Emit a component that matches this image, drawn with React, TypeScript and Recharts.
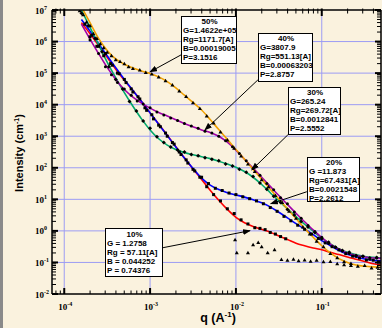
import React from 'react';
import { ComposedChart, Line, Scatter, XAxis, YAxis, ReferenceLine } from 'recharts';

// log10(q) grid of the fitted curves, and log10(I) of each fit
const fitLogQ = [-3.8, -3.7, -3.6, -3.5, -3.4, -3.3, -3.2, -3.1, -3.0, -2.9, -2.8, -2.7, -2.6, -2.5, -2.4, -2.3, -2.2, -2.1, -2.0, -1.9, -1.8, -1.7, -1.6, -1.5, -1.4, -1.3, -1.2, -1.1, -1.0, -0.9, -0.8, -0.7, -0.6, -0.5, -0.4, -0.31];
const fit50 = [7.1, 6.6, 6.1, 5.72, 5.45, 5.28, 5.16, 5.07, 4.99, 4.88, 4.73, 4.53, 4.30, 4.07, 3.83, 3.53, 3.21, 2.90, 2.58, 2.27, 1.95, 1.64, 1.32, 1.01, 0.70, 0.39, 0.08, -0.20, -0.47, -0.70, -0.88, -1.0, -1.08, -1.12, -1.14, -1.15];
const fit40 = [6.55, 6.08, 5.62, 5.18, 4.8, 4.48, 4.24, 4.05, 3.89, 3.75, 3.64, 3.52, 3.40, 3.30, 3.20, 3.12, 3.0, 2.81, 2.56, 2.27, 1.99, 1.70, 1.41, 1.12, 0.84, 0.56, 0.29, 0.03, -0.21, -0.42, -0.58, -0.70, -0.78, -0.83, -0.86, -0.87];
const fit30 = [7.0, 6.45, 5.9, 5.35, 4.85, 4.38, 3.95, 3.55, 3.2, 2.92, 2.72, 2.58, 2.48, 2.41, 2.35, 2.29, 2.21, 2.12, 2.02, 1.88, 1.70, 1.47, 1.21, 0.95, 0.70, 0.45, 0.21, -0.01, -0.23, -0.41, -0.57, -0.68, -0.76, -0.81, -0.84, -0.86];
const fit20 = [6.7, 6.33, 5.93, 5.55, 5.17, 4.8, 4.45, 4.1, 3.74, 3.38, 3.02, 2.66, 2.31, 1.98, 1.67, 1.45, 1.31, 1.21, 1.14, 1.07, 0.99, 0.89, 0.76, 0.59, 0.41, 0.23, 0.06, -0.12, -0.31, -0.47, -0.62, -0.74, -0.83, -0.89, -0.93, -0.95];
const fit10 = [6.6, 6.25, 5.88, 5.5, 5.12, 4.77, 4.45, 4.1, 3.74, 3.39, 3.03, 2.67, 2.31, 1.96, 1.63, 1.29, 0.97, 0.68, 0.43, 0.26, 0.14, 0.05, -0.04, -0.16, -0.27, -0.39, -0.47, -0.54, -0.60, -0.68, -0.75, -0.83, -0.90, -0.97, -1.04, -1.08];

// measured points, [log10 q, log10 I]
const data50 = [[-3.82, 6.98], [-3.78, 6.85], [-3.74, 6.62], [-3.7, 6.5], [-3.66, 6.25], [-3.62, 6.1], [-3.58, 5.93], [-3.54, 5.8], [-3.5, 5.66], [-3.45, 5.55], [-3.4, 5.42], [-3.35, 5.37], [-3.3, 5.3], [-3.25, 5.2], [-3.2, 5.15], [-3.12, 5.1], [-3.05, 5.02], [-2.98, 4.97], [-2.9, 4.88], [-2.82, 4.76], [-2.74, 4.62], [-2.66, 4.43], [-2.58, 4.26], [-2.5, 4.06], [-2.42, 3.88], [-2.34, 3.64], [-2.26, 3.42], [-2.18, 3.13], [-2.1, 2.88], [-2.02, 2.62], [-1.94, 2.37], [-1.86, 2.12], [-1.78, 1.88], [-1.7, 1.62], [-1.62, 1.4], [-1.54, 1.12], [-1.46, 0.9], [-1.38, 0.62], [-1.3, 0.4], [-1.22, 0.12], [-1.14, -0.1], [-1.06, -0.33], [-0.98, -0.5], [-0.9, -0.72], [-0.82, -0.85], [-0.74, -0.98], [-0.66, -1.03], [-0.58, -1.12], [-0.5, -1.1], [-0.42, -1.18], [-0.35, -1.15]];
const data40 = [[-3.7, 6.05], [-3.6, 5.62], [-3.52, 5.2], [-3.45, 4.95], [-3.38, 4.7], [-3.3, 4.5], [-3.22, 4.3], [-3.15, 4.12], [-3.08, 4.02], [-3.0, 3.9], [-2.92, 3.77], [-2.84, 3.67], [-2.76, 3.58], [-2.68, 3.5], [-2.6, 3.4], [-2.52, 3.32], [-2.44, 3.25], [-2.36, 3.16], [-2.28, 3.1], [-2.2, 3.0], [-2.12, 2.86], [-2.04, 2.67], [-1.96, 2.45], [-1.88, 2.22], [-1.8, 1.98], [-1.72, 1.76], [-1.64, 1.5], [-1.56, 1.3], [-1.48, 1.05], [-1.4, 0.86], [-1.32, 0.6], [-1.24, 0.4], [-1.16, 0.17], [-1.08, -0.02], [-1.0, -0.2], [-0.92, -0.4], [-0.84, -0.52], [-0.76, -0.64], [-0.68, -0.72], [-0.6, -0.8], [-0.52, -0.8], [-0.44, -0.9], [-0.36, -0.86]];
const data30 = [[-3.8, 6.9], [-3.72, 6.5], [-3.64, 6.1], [-3.56, 5.68], [-3.48, 5.2], [-3.4, 4.8], [-3.32, 4.5], [-3.24, 4.1], [-3.16, 3.8], [-3.08, 3.48], [-3.0, 3.25], [-2.92, 2.98], [-2.84, 2.8], [-2.76, 2.66], [-2.68, 2.56], [-2.6, 2.5], [-2.52, 2.42], [-2.44, 2.38], [-2.36, 2.32], [-2.28, 2.27], [-2.2, 2.22], [-2.12, 2.12], [-2.04, 2.06], [-1.96, 1.95], [-1.88, 1.86], [-1.8, 1.72], [-1.72, 1.52], [-1.64, 1.32], [-1.56, 1.1], [-1.48, 0.9], [-1.4, 0.68], [-1.32, 0.5], [-1.24, 0.3], [-1.16, 0.12], [-1.08, -0.05], [-1.0, -0.25], [-0.92, -0.36], [-0.84, -0.52], [-0.76, -0.62], [-0.68, -0.68], [-0.6, -0.78], [-0.52, -0.8], [-0.44, -0.86], [-0.36, -0.84]];
const data20 = [[-3.76, 6.55], [-3.68, 6.2], [-3.6, 5.85], [-3.52, 5.62], [-3.44, 5.25], [-3.36, 4.98], [-3.28, 4.7], [-3.2, 4.4], [-3.12, 4.18], [-3.04, 3.82], [-2.96, 3.55], [-2.88, 3.3], [-2.8, 3.0], [-2.72, 2.75], [-2.64, 2.42], [-2.56, 2.15], [-2.48, 1.9], [-2.4, 1.7], [-2.32, 1.5], [-2.24, 1.35], [-2.16, 1.28], [-2.08, 1.2], [-2.0, 1.15], [-1.92, 1.08], [-1.84, 1.02], [-1.76, 0.95], [-1.68, 0.86], [-1.6, 0.74], [-1.52, 0.62], [-1.44, 0.46], [-1.36, 0.32], [-1.28, 0.18], [-1.2, 0.05], [-1.12, -0.1], [-1.04, -0.24], [-0.96, -0.38], [-0.88, -0.5], [-0.8, -0.6], [-0.72, -0.72], [-0.64, -0.8], [-0.56, -0.86], [-0.48, -0.92], [-0.4, -0.93], [-0.34, -0.98]];
const data10 = [[-3.7, 6.15], [-3.62, 5.85], [-3.54, 5.55], [-3.46, 5.3], [-3.38, 5.0], [-3.3, 4.8], [-3.22, 4.5], [-3.14, 4.25], [-3.06, 3.9], [-2.98, 3.68], [-2.9, 3.35], [-2.82, 3.1], [-2.74, 2.8], [-2.66, 2.5], [-2.58, 2.25], [-2.5, 1.95], [-2.42, 1.7], [-2.34, 1.4], [-2.26, 1.15], [-2.18, 0.95], [-2.1, 0.7], [-2.02, 0.55], [-1.94, 0.35], [-1.86, 0.22], [-1.78, 0.1], [-1.72, 0.08], [-1.66, 0.04], [-1.6, -0.05], [-1.54, -0.1], [-1.48, -0.18], [-1.42, -0.25]];
const data10b = [[-2.01, -0.28], [-1.99, -0.69], [-1.86, -0.69], [-1.8, -0.44], [-1.74, -0.37], [-1.7, -0.5], [-1.63, -0.69], [-1.55, -0.6], [-1.47, -0.91], [-1.4, -0.93], [-1.33, -0.9], [-1.27, -0.95], [-1.2, -0.92], [-1.13, -0.96], [-1.06, -0.93], [-0.98, -0.98], [-0.9, -0.97], [-0.82, -1.04], [-0.74, -1.07], [-0.66, -1.1]];

// annotation boxes and arrows (arrow ends in log10 data units: from box to curve)
const labels50 = ['50%', 'G=1.4622e+05', 'Rg=1171.7[A]', 'B=0.00019005', 'P=3.1516'];
const labels40 = ['40%', 'G=3807.9', 'Rg=551.13[A]', 'B=0.00063203', 'P=2.8757'];
const labels30 = ['30%', 'G=265.24', 'Rg=269.72[A]', 'B=0.0012841', 'P=2.5552'];
const labels20 = ['20%', 'G =11.873', 'Rg=67.431[A]', 'B=0.0021548', 'P=2.2612'];
const labels10 = ['10%', 'G = 1.2758', 'Rg = 57.11[A]', 'B = 0.044252', 'P = 0.74376'];
const arrows = [
  [[-2.64, 5.576], [-3.0, 5.04]],
  [[-1.744, 4.785], [-2.36, 3.2]],
  [[-1.395, 3.044], [-1.814, 1.937]],
  [[-1.174, 1.241], [-1.593, 0.861]],
  [[-2.849, -0.532], [-1.837, 0.006]],
];

const xMajor = [1e-4, 1e-3, 1e-2, 1e-1];
const yMajor = [1e-2, 1e-1, 1, 10, 100, 1e3, 1e4, 1e5, 1e6, 1e7];
const minorMult = [2, 3, 4, 5, 6, 7, 8, 9];
const xDomain = [7.2e-5, 0.49];
const yDomain = [0.01, 1e7];

const withMinors = (majors: number[], dom: number[]) => {
  const out: number[] = [];
  const decades = [majors[0] / 10, ...majors];
  decades.forEach((d) => {
    out.push(d);
    minorMult.forEach((m) => out.push(d * m));
  });
  return out.filter((v) => v >= dom[0] * 0.999 && v <= dom[1] * 1.001);
};
const xTicks = withMinors(xMajor, xDomain);
const yTicks = withMinors(yMajor, yDomain);

const toFit = (ys: number[]) => fitLogQ.map((lq, i) => ({ q: Math.pow(10, lq), I: Math.pow(10, ys[i]) }));
const toPts = (pts: number[][]) => pts.map(([lq, li]) => ({ q: Math.pow(10, lq), I: Math.pow(10, li) }));

const isMajor = (v: number) => Math.abs(Math.log10(v) - Math.round(Math.log10(v))) < 1e-6;
const expOf = (v: number) => Math.round(Math.log10(v));
const SERIF = "'Liberation Serif', 'Times New Roman', serif";
const SANS = "'Liberation Sans', Arial, sans-serif";

const Pow = ({ x, y, e, anchor }: any) => (
  <text x={x} y={y} textAnchor={anchor} fontFamily={SERIF} fontWeight="bold" fontSize={9} fill="#000">
    10<tspan dy={-4} fontSize={6}>{e}</tspan>
  </text>
);

const BottomTick = (p: any) => {
  const { x, y, payload } = p;
  const m = isMajor(payload.value);
  return (
    <g>
      <line x1={x} x2={x} y1={y} y2={y - (m ? 6 : 3.5)} stroke="#000" strokeWidth={m ? 2 : 1} />
      {m && <Pow x={x + 1} y={y + 16} e={expOf(payload.value)} anchor="middle" />}
    </g>
  );
};
const TopTick = (p: any) => {
  const { x, y, payload } = p;
  const m = isMajor(payload.value);
  return <line x1={x} x2={x} y1={y - 1.5} y2={y + (m ? 6 : 3.5)} stroke="#000" strokeWidth={m ? 2 : 1} />;
};
const LeftTick = (p: any) => {
  const { x, y, payload } = p;
  const m = isMajor(payload.value);
  return (
    <g>
      <line x1={x} x2={x + (m ? 6 : 4)} y1={y} y2={y} stroke="#000" strokeWidth={m ? 2 : 1} />
      {m && <Pow x={x - 17} y={y + 3.5} e={expOf(payload.value)} anchor="start" />}
    </g>
  );
};
const RightTick = (p: any) => {
  const { x, y, payload } = p;
  const m = isMajor(payload.value);
  return <line x1={x} x2={x - (m ? 6 : 4)} y1={y} y2={y} stroke="#000" strokeWidth={m ? 2 : 1} />;
};

const Square = (p: any) => <rect x={p.cx - 1.5} y={p.cy - 1.5} width={3} height={3} fill="#000" />;
const Dot = (p: any) => <circle cx={p.cx} cy={p.cy} r={1.5} fill="#000" />;
const Tri = (p: any) => <path d={`M${p.cx},${p.cy - 2} L${p.cx + 2},${p.cy + 1.5} L${p.cx - 2},${p.cy + 1.5}Z`} fill="#000" />;
const Diamond = (p: any) => <path d={`M${p.cx},${p.cy - 2} L${p.cx + 2},${p.cy} L${p.cx},${p.cy + 2} L${p.cx - 2},${p.cy}Z`} fill="#000" />;

const ArrowLine = (p: any) => (
  <line x1={p.x1} y1={p.y1} x2={p.x2} y2={p.y2} stroke="#000" strokeWidth={1} markerEnd="url(#arrowHead)" />
);

const Box = ({ left, top, width, height, lines, padTop = 0 }: any) => (
  <div
    style={{
      position: 'absolute', left, top, width, height, boxSizing: 'border-box',
      border: '1px solid #000', background: '#fff', fontFamily: SANS, fontWeight: 'bold',
      fontSize: 8, lineHeight: '9.1px', paddingLeft: 1, paddingTop: padTop, color: '#000', whiteSpace: 'nowrap',
    }}
  >
    {lines.map((t: string, i: number) => (
      <div key={i} style={{ textAlign: i === 0 ? 'center' : 'left' }}>{t}</div>
    ))}
  </div>
);

const GRID = '#9C9CF4';

export default function App() {
  const fits = [
    { d: fit10, c: '#FF0000' },
    { d: fit20, c: '#0000FF' },
    { d: fit30, c: '#00A86B' },
    { d: fit40, c: '#A000A8' },
    { d: fit50, c: '#F0A000' },
  ];
  return (
    <div style={{ position: 'absolute', left: 0, top: 0, width: 382, height: 328, background: '#FAF2DE', overflow: 'hidden' }}>
      <ComposedChart width={382} height={328} margin={{ top: 0, right: 0, bottom: 0, left: 0 }}>
        <defs>
          <marker id="arrowHead" markerWidth="8" markerHeight="6" refX="7" refY="3" orient="auto" markerUnits="userSpaceOnUse">
            <path d="M0,0 L8,3 L0,6 Z" fill="#000" />
          </marker>
        </defs>
        <XAxis dataKey="q" type="number" scale="log" domain={xDomain} allowDataOverflow ticks={xTicks} interval={0}
          height={34} tickSize={0} tickMargin={0} tick={BottomTick} axisLine={{ stroke: '#000', strokeWidth: 1.5 }} tickLine={false} />
        <XAxis xAxisId="top" orientation="top" dataKey="q" type="number" scale="log" domain={xDomain} allowDataOverflow ticks={xTicks} interval={0}
          height={10} tickSize={0} tickMargin={0} tick={TopTick} axisLine={{ stroke: '#000', strokeWidth: 1.5 }} tickLine={false} />
        <YAxis dataKey="I" type="number" scale="log" domain={yDomain} allowDataOverflow ticks={yTicks} interval={0}
          width={52} tickSize={0} tickMargin={0} tick={LeftTick} axisLine={{ stroke: '#000', strokeWidth: 1.5 }} tickLine={false} />
        <YAxis yAxisId="right" orientation="right" dataKey="I" type="number" scale="log" domain={yDomain} allowDataOverflow ticks={yTicks} interval={0}
          width={1} tickSize={0} tickMargin={0} tick={RightTick} axisLine={{ stroke: '#000', strokeWidth: 1.5 }} tickLine={false} />
        {xMajor.map((v) => (
          <ReferenceLine key={'gx' + v} x={v} stroke={GRID} strokeWidth={1} />
        ))}
        {yMajor.slice(1, -1).map((v) => (
          <ReferenceLine key={'gy' + v} y={v} stroke={GRID} strokeWidth={1} />
        ))}
        <Scatter data={toPts(data50)} dataKey="I" shape={Tri} isAnimationActive={false} />
        <Scatter data={toPts(data40)} dataKey="I" shape={Dot} isAnimationActive={false} />
        <Scatter data={toPts(data30)} dataKey="I" shape={Diamond} isAnimationActive={false} />
        <Scatter data={toPts(data20)} dataKey="I" shape={Square} isAnimationActive={false} />
        <Scatter data={toPts(data10)} dataKey="I" shape={Square} isAnimationActive={false} />
        <Scatter data={toPts(data10b)} dataKey="I" shape={Tri} isAnimationActive={false} />
        {fits.map((f, i) => (
          <Line key={i} data={toFit(f.d)} dataKey="I" type="monotone" stroke={f.c} strokeWidth={1.6} dot={false} activeDot={false} isAnimationActive={false} />
        ))}
        {arrows.map((a, i) => (
          <ReferenceLine key={'ar' + i}
            segment={[{ x: Math.pow(10, a[0][0]), y: Math.pow(10, a[0][1]) }, { x: Math.pow(10, a[1][0]), y: Math.pow(10, a[1][1]) }]}
            shape={ArrowLine} ifOverflow="visible" />
        ))}
      </ComposedChart>
      <div style={{ position: 'absolute', left: 0, top: 0, width: 3, height: 328, background: '#8A8A8A' }} />
      <svg width={382} height={328} style={{ position: 'absolute', left: 0, top: 0, pointerEvents: 'none' }}>
        <text transform="translate(22.5,153) rotate(-90)" textAnchor="middle" fontFamily={SANS} fontWeight="bold" fontSize={11} fill="#000">
          Intensity (cm<tspan dy={-4} fontSize={7}>-1</tspan><tspan dy={4}>)</tspan>
        </text>
        <text x={218} y={322} textAnchor="middle" fontFamily={SANS} fontWeight="bold" fontSize={12.5} fill="#000">
          q (A<tspan dy={-5} fontSize={8}>-1</tspan><tspan dy={5}>)</tspan>
        </text>
      </svg>
      <Box left={181} top={16} width={56} height={48} lines={labels50} />
      <Box left={258} top={33} width={55} height={49} lines={labels40} />
      <Box left={288} top={87} width={53} height={48} lines={labels30} />
      <Box left={307} top={157} width={53} height={45} lines={labels20} />
      <Box left={105} top={228} width={58} height={49} lines={labels10} padTop={1} />
    </div>
  );
}
